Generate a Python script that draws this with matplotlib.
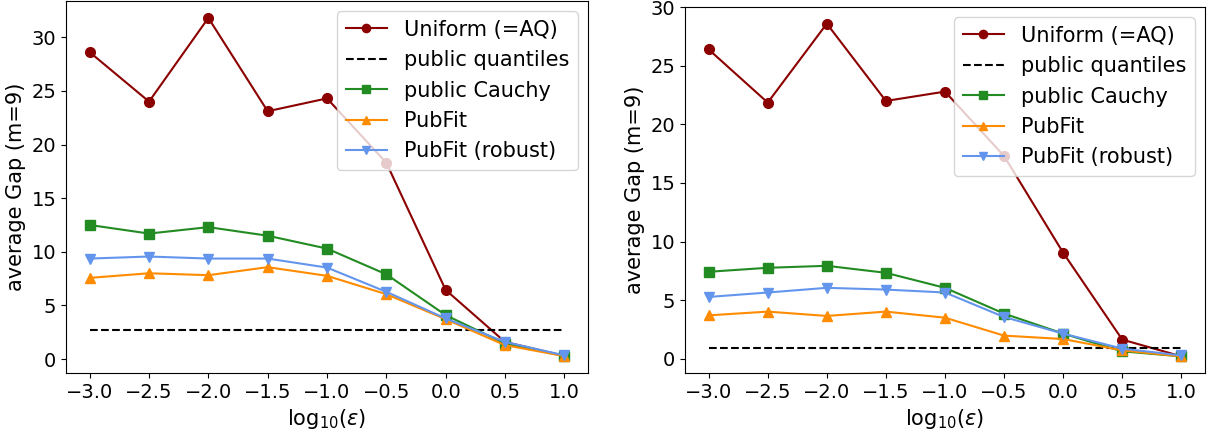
import numpy as np
import matplotlib
matplotlib.use("Agg")
import matplotlib.pyplot as plt

# privacy budget grid (log10 epsilon)
log_eps = [-3.0, -2.5, -2.0, -1.5, -1.0, -0.5, 0.0, 0.5, 1.0]

# left panel
uniform_a = [28.6, 24.0, 31.8, 23.1, 24.3, 18.3, 6.45, 1.6, 0.3]
quantiles_a = 2.7
cauchy_a = [12.5, 11.7, 12.3, 11.5, 10.3, 7.9, 4.1, 1.45, 0.3]
pubfit_a = [7.57, 8.0, 7.82, 8.57, 7.76, 6.05, 3.72, 1.3, 0.28]
robust_a = [9.37, 9.56, 9.37, 9.37, 8.53, 6.27, 3.79, 1.6, 0.35]

# right panel
uniform_b = [26.4, 21.86, 28.6, 22.0, 22.8, 17.3, 9.04, 1.63, 0.2]
quantiles_b = 0.95
cauchy_b = [7.42, 7.76, 7.93, 7.33, 6.05, 3.85, 2.14, 0.63, 0.2]
pubfit_b = [3.7, 4.02, 3.65, 4.02, 3.5, 1.97, 1.68, 0.71, 0.2]
robust_b = [5.27, 5.65, 6.05, 5.9, 5.65, 3.56, 2.14, 0.86, 0.28]

ylabel = "average Gap (m=9)"
xlabel = r"log$_{10}(\varepsilon)$"


def draw_panel(ax, uniform, quant, cauchy, pubfit, robust):
    ax.plot(log_eps, uniform, marker="o", color="darkred", markersize=7, label="Uniform (=AQ)")
    ax.plot(log_eps, [quant] * len(log_eps), "--", color="black", label="public quantiles")
    ax.plot(log_eps, cauchy, marker="s", color="forestgreen", markersize=7, label="public Cauchy")
    ax.plot(log_eps, pubfit, marker="^", color="darkorange", markersize=7, label="PubFit")
    ax.plot(log_eps, robust, marker="v", color="cornflowerblue", markersize=7, label="PubFit (robust)")
    ax.set_xticks(np.arange(-3.0, 1.01, 0.5))
    ax.set_yticks(np.arange(0, 31, 5))
    ax.tick_params(labelsize=14)
    ax.set_xlabel(xlabel, fontsize=15)
    ax.set_ylabel(ylabel, fontsize=15)
    ax.legend(loc="upper right", fontsize=15, markerscale=0.85)


fig = plt.figure(figsize=(12.1, 4.32), dpi=100)
ax1 = fig.add_axes([66 / 1210, 59 / 432, 522 / 1210, 372 / 432])
ax2 = fig.add_axes([685 / 1210, 59 / 432, 520 / 1210, 366 / 432])

draw_panel(ax1, uniform_a, quantiles_a, cauchy_a, pubfit_a, robust_a)
draw_panel(ax2, uniform_b, quantiles_b, cauchy_b, pubfit_b, robust_b)

fig.savefig("out.png", dpi=100)
